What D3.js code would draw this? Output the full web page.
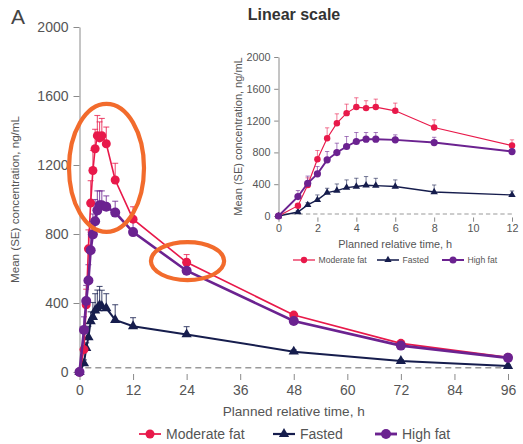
<!DOCTYPE html>
<html><head><meta charset="utf-8">
<script src="https://cdn.jsdelivr.net/npm/d3@7"></script>
<style>body{margin:0;background:#fff}svg{display:block;font-family:"Liberation Sans",Arial,sans-serif}</style>
</head><body><svg id="c" width="523" height="444"></svg>
<script>
const times = [0, 1, 1.5, 2, 2.5, 3, 3.5, 4, 4.5, 5, 6, 8, 12, 24, 48, 72, 96];
const moderate = [0, 130, 390, 714, 979, 1168, 1294, 1370, 1357, 1370, 1323, 1113, 886, 636, 330, 166, 85];
const moderateSE = [0, 20, 90, 110, 130, 117, 113, 117, 93, 100, 97, 97, 72, 45, 15, 10, 6];
const fasted = [0, 50, 139, 202, 294, 319, 357, 370, 387, 382, 370, 302, 265, 218, 118, 64, 35];
const fastedSE = [0, 20, 30, 63, 55, 84, 97, 105, 109, 92, 84, 88, 50, 45, 10, 8, 5];
const highfat = [0, 244, 412, 530, 706, 798, 874, 937, 966, 966, 958, 924, 811, 587, 296, 153, 82];
const highfatSE = [0, 76, 90, 92, 105, 118, 126, 113, 84, 84, 63, 66, 63, 30, 10, 8, 5];
const lloq = 25;
const yTicks = [0, 400, 800, 1200, 1600, 2000];
const xTicksMain = [0, 12, 24, 36, 48, 60, 72, 84, 96];
const xTicksInset = [0, 2, 4, 6, 8, 10, 12];
const seriesNames = ["Moderate fat", "Fasted", "High fat"];
// annotation ellipses in data units: [cx(h), cy(ng/mL), rx(h), ry(ng/mL)]
const ellipses = [[6.05, 1183, 8.4, 371], [24.2, 643, 8.2, 110]];

const colors = {"Moderate fat": "#e8194a", "Fasted": "#161d4d", "High fat": "#6b2290"};
const series = [
  {name: "Moderate fat", v: moderate, se: moderateSE, shape: "circle", lw: 1.6, r: 4.5},
  {name: "Fasted", v: fasted, se: fastedSE, shape: "triangle", lw: 2, r: 4.5},
  {name: "High fat", v: highfat, se: highfatSE, shape: "circle", lw: 2.6, r: 5}
];
const svg = d3.select("#c");
const axisCol = "#8a8a8a", textCol = "#555";
const fmt = d3.format("d");

function marker(g, s, x, y, scale) {
  if (s.shape === "circle") {
    g.append("circle").attr("cx", x).attr("cy", y).attr("r", s.r * scale).attr("fill", colors[s.name]);
  } else {
    g.append("path").attr("d", d3.symbol(d3.symbolTriangle, 46 * scale * scale)())
      .attr("transform", `translate(${x},${y})`).attr("fill", colors[s.name]);
  }
}

function panel(opts) {
  const {x0, x1, y0, y1, xMax, xTicks, tickFont, titleFont, maxT, sc, ytitleX, xtitleY, tickLabY} = opts;
  const x = d3.scaleLinear().domain([0, xMax]).range([x0, x1]);
  const y = d3.scaleLinear().domain([0, 2000]).range([y0, y1]);
  const g = svg.append("g");
  const ya = g.append("g").attr("transform", `translate(${x0},0)`)
    .call(d3.axisLeft(y).tickValues(yTicks).tickFormat(fmt).tickSize(6 * sc).tickSizeOuter(0).tickPadding(5 * sc));
  ya.selectAll("path,line").attr("stroke", axisCol);
  ya.selectAll("text").attr("fill", textCol).style("font-size", tickFont + "px");
  const xa = g.append("g").attr("transform", `translate(0,${y0 + 2 * sc})`)
    .call(d3.axisBottom(x).tickValues(xTicks).tickFormat(fmt).tickSize(6 * sc).tickSizeOuter(0).tickPadding(tickLabY));
  xa.select(".domain").remove();
  xa.selectAll("line").attr("stroke", axisCol);
  xa.selectAll("text").attr("fill", textCol).style("font-size", tickFont + "px");
  g.append("line").attr("x1", x(opts.dashStart)).attr("x2", x(xMax)).attr("y1", y(lloq)).attr("y2", y(lloq))
    .attr("stroke", "#9a9a9a").attr("stroke-width", 1.5 * sc).attr("stroke-dasharray", `${6 * sc},${4 * sc}`);
  g.append("text").attr("x", (x0 + x1) / 2).attr("y", xtitleY).attr("text-anchor", "middle")
    .attr("fill", textCol).style("font-size", titleFont + "px").text("Planned relative time, h");
  g.append("text").attr("transform", `translate(${ytitleX},${(y0 + y1) / 2}) rotate(-90)`)
    .attr("text-anchor", "middle").attr("dy", "0.35em").attr("fill", textCol)
    .style("font-size", opts.yTitleFont + "px").text("Mean (SE) concentration, ng/mL");
  const idx = times.map((t, i) => i).filter(i => times[i] <= maxT);
  series.forEach(s => {
    const eg = g.append("g").attr("stroke", colors[s.name]).attr("stroke-opacity", 0.75).attr("stroke-width", 1.1 * sc);
    idx.forEach(i => {
      if (s.se[i] <= 0) return;
      const px = x(times[i]), top = y(s.v[i] + s.se[i]);
      eg.append("line").attr("x1", px).attr("x2", px).attr("y1", y(s.v[i])).attr("y2", top);
      eg.append("line").attr("x1", px - 3 * sc).attr("x2", px + 3 * sc).attr("y1", top).attr("y2", top);
    });
  });
  [series[1], series[0], series[2]].forEach(s => {
    const line = d3.line().x(i => x(times[i])).y(i => y(s.v[i]));
    g.append("path").datum(idx).attr("d", line).attr("fill", "none")
      .attr("stroke", colors[s.name]).attr("stroke-width", s.lw * sc);
    idx.forEach(i => marker(g, s, x(times[i]), y(s.v[i]), sc));
  });
  return {x, y, g};
}

const main = panel({x0: 79.5, x1: 508, y0: 372, y1: 27, xMax: 96, xTicks: xTicksMain, tickFont: 14, titleFont: 13.6,
  yTitleFont: 11.6, maxT: 96, sc: 1, ytitleX: 15, xtitleY: 416, tickLabY: 5, dashStart: 1.3});
const inset = panel({x0: 278.5, x1: 512, y0: 216, y1: 57, xMax: 12, xTicks: xTicksInset, tickFont: 10.8, titleFont: 10.9,
  yTitleFont: 11, maxT: 12, sc: 0.72, ytitleX: 238, xtitleY: 248, tickLabY: 3, dashStart: 0.3});

const eg = svg.append("g");
ellipses.forEach(e => {
  eg.append("ellipse").attr("cx", main.x(e[0])).attr("cy", main.y(e[1]))
    .attr("rx", main.x(e[2]) - main.x(0)).attr("ry", main.y(0) - main.y(e[3]))
    .attr("fill", "none").attr("stroke", "#f26b2c").attr("stroke-width", 4.2);
});

function legend(xs, y, lineLen, font, sc) {
  series.forEach((s, k) => {
    const lx = xs[k];
    svg.append("line").attr("x1", lx).attr("x2", lx + lineLen).attr("y1", y).attr("y2", y)
      .attr("stroke", colors[s.name]).attr("stroke-width", s.lw * sc * 1.1);
    marker(svg, s, lx + lineLen / 2, y, sc);
    svg.append("text").attr("x", lx + lineLen + 5 * sc).attr("y", y).attr("dy", "0.35em")
      .attr("fill", textCol).style("font-size", font + "px").text(s.name);
  });
}
legend([139, 273, 375], 434, 22, 14, 1);
legend([293, 377, 442], 260, 22, 8.6, 0.7);

svg.append("text").attr("x", 294).attr("y", 20).attr("text-anchor", "middle").attr("fill", "#333")
  .style("font-size", "16px").style("font-weight", "bold").text("Linear scale");
svg.append("text").attr("x", 11).attr("y", 24).attr("fill", "#444").style("font-size", "21px").text("A");
</script></body></html>
